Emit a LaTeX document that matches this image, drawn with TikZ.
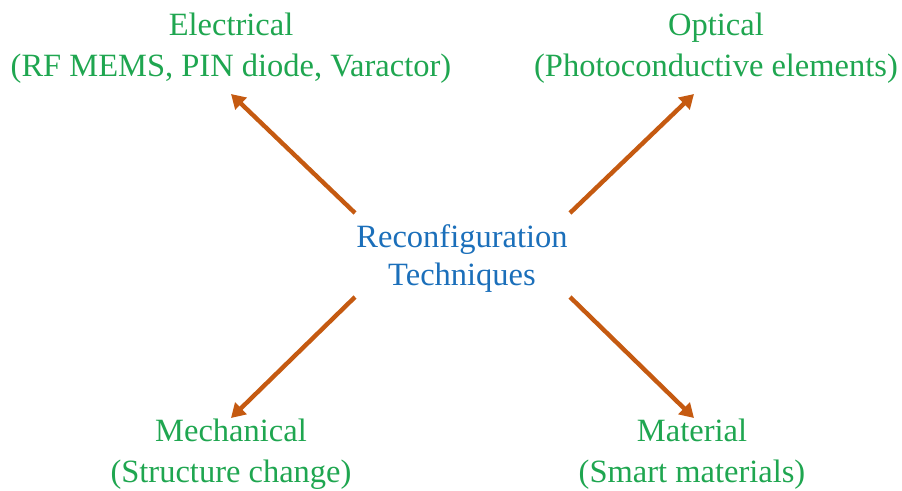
\documentclass[tikz,border=0pt]{standalone}
\usepackage{fontspec}
\setmainfont{Liberation Serif}
\usetikzlibrary{arrows.meta}
\definecolor{lblgreen}{HTML}{1FA650}
\definecolor{ctrblue}{HTML}{1B6FBA}
\definecolor{arrorange}{HTML}{C55A11}
\begin{document}
\begin{tikzpicture}[x=1pt,y=-1pt,
  lbl/.style={text=lblgreen,align=center,inner sep=0pt,font=\fontsize{32.5}{41}\selectfont},
  ctr/.style={text=ctrblue,align=center,inner sep=0pt,font=\fontsize{32.5}{38}\selectfont},
  conn/.style={draw=arrorange,line width=4.4pt,-{Triangle[length=14pt,width=16pt]}}]
\useasboundingbox (0,0) rectangle (902,490);
\node[lbl] (elec) at (231,48) {Electrical\\(RF MEMS, PIN diode, Varactor)};
\node[lbl] (opt) at (716,48) {Optical\\(Photoconductive elements)};
\node[ctr] (ctr) at (462,259) {Reconfiguration\\Techniques};
\node[lbl] (mech) at (231,454) {Mechanical\\(Structure change)};
\node[lbl] (mat) at (692,454) {Material\\(Smart materials)};
\coordinate (s1) at (355,213); \coordinate (e1) at (231,94);
\coordinate (s2) at (570,213); \coordinate (e2) at (694,94);
\coordinate (s3) at (355,297); \coordinate (e3) at (231,418);
\coordinate (s4) at (570,297); \coordinate (e4) at (694,418);
\draw[conn] (s1) -- (e1);
\draw[conn] (s2) -- (e2);
\draw[conn] (s3) -- (e3);
\draw[conn] (s4) -- (e4);
\end{tikzpicture}
\end{document}
